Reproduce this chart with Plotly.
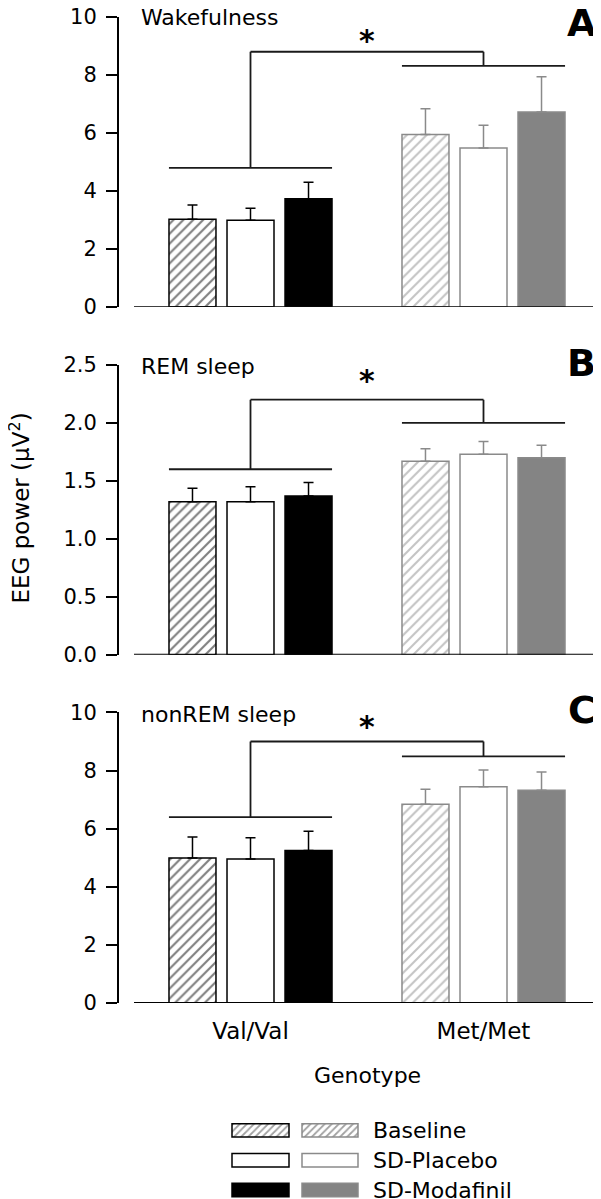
import plotly.graph_objects as go

# ---------------- data ----------------
groups = ["Val/Val", "Met/Met"]
conditions = ["Baseline", "SD-Placebo", "SD-Modafinil"]
panel_titles = ["Wakefulness", "REM sleep", "nonREM sleep"]
panel_letters = ["A", "B", "C"]

wake_val = [3.02, 2.99, 3.73]
wake_val_err = [0.49, 0.41, 0.57]
wake_met = [5.94, 5.48, 6.72]
wake_met_err = [0.89, 0.78, 1.22]

rem_val = [1.32, 1.32, 1.37]
rem_val_err = [0.117, 0.129, 0.115]
rem_met = [1.67, 1.73, 1.70]
rem_met_err = [0.106, 0.109, 0.106]

nrem_val = [4.99, 4.96, 5.25]
nrem_val_err = [0.72, 0.73, 0.66]
nrem_met = [6.84, 7.44, 7.32]
nrem_met_err = [0.52, 0.58, 0.63]

# significance brackets: [Val/Val level, top level, Met/Met level], star level
bracket_levels = [[4.79, 8.80, 8.31], [1.60, 2.20, 2.00], [6.40, 9.00, 8.49]]
star_levels = [9.29, 2.395, 9.62]

y_ranges = [[0, 10], [0, 2.5], [0, 10]]
y_dticks = [2, 0.5, 2]
y_formats = ["d", ".1f", "d"]

# ---------------- styles / layout ----------------
OFF = 8.0            # page offset of the plot div inside the window
W = 601.0 - OFF
H = 1199.0 - OFF
S = H / 1197.0       # slight vertical squeeze so that top content stays visible
FONT = "DejaVu Sans"
BLACK = "#000000"
GREY_LINE = "#8a8a8a"
GREY_FILL = "#848484"


def px_x(v):
    return (v - OFF) / W


def px_y(v):
    return 1 - ((v - 2.0) * S) / H


panel_px = [(11, 302.3), (360.7, 652), (710, 1002)]
title_px = [10.5, 361, 711]
letter_px = [17.5, 358.5, 707.5]
x_domain = [px_x(119), px_x(600)]
x_range = [-0.5644, 1.5]

val_style = {
    "Baseline": dict(color="white", pattern=dict(shape="/", fgcolor=BLACK, bgcolor="white", size=7, solidity=0.3)),
    "SD-Placebo": dict(color="white", pattern=dict(shape="")),
    "SD-Modafinil": dict(color=BLACK, pattern=dict(shape="")),
}
met_style = {
    "Baseline": dict(color="white", pattern=dict(shape="/", fgcolor=GREY_LINE, bgcolor="white", size=7, solidity=0.3)),
    "SD-Placebo": dict(color="white", pattern=dict(shape="")),
    "SD-Modafinil": dict(color=GREY_FILL, pattern=dict(shape="")),
}

panels = [
    (wake_val, wake_val_err, wake_met, wake_met_err),
    (rem_val, rem_val_err, rem_met, rem_met_err),
    (nrem_val, nrem_val_err, nrem_met, nrem_met_err),
]

fig = go.Figure()
shapes = []
annotations = []
BLW = 1.8  # bracket / baseline line width

for p, (vv, ve, mv, me) in enumerate(panels):
    xa = "x" if p == 0 else f"x{p+1}"
    ya = "y" if p == 0 else f"y{p+1}"
    for i, cond in enumerate(conditions):
        for g, (vals, errs, style, lc) in enumerate([
            (vv, ve, val_style, BLACK),
            (mv, me, met_style, GREY_LINE),
        ]):
            st = style[cond]
            fig.add_trace(go.Bar(
                x=[g], y=[vals[i]],
                xaxis=xa, yaxis=ya,
                offsetgroup=cond,
                marker=dict(color=st["color"], pattern=st["pattern"],
                            line=dict(color=lc, width=1.5)),
                error_y=dict(type="data", symmetric=False, array=[errs[i]], arrayminus=[0],
                             color=lc, thickness=1.5, width=5),
                showlegend=False, hoverinfo="skip",
            ))
    # baseline (x axis line, offset from y axis)
    shapes.append(dict(type="line", xref=xa, yref=ya, x0=-0.5, x1=1.5, y0=0, y1=0,
                       line=dict(color=BLACK, width=BLW)))
    lv, top, lm = bracket_levels[p]
    blc = "#1a1a1a"
    shapes += [
        dict(type="line", xref=xa, yref=ya, x0=-0.35, x1=0.35, y0=lv, y1=lv, line=dict(color=blc, width=BLW)),
        dict(type="line", xref=xa, yref=ya, x0=0, x1=0, y0=lv, y1=top, line=dict(color=blc, width=BLW)),
        dict(type="line", xref=xa, yref=ya, x0=0, x1=1, y0=top, y1=top, line=dict(color=blc, width=BLW)),
        dict(type="line", xref=xa, yref=ya, x0=1, x1=1, y0=top, y1=lm, line=dict(color=blc, width=BLW)),
        dict(type="line", xref=xa, yref=ya, x0=0.65, x1=1.35, y0=lm, y1=lm, line=dict(color=blc, width=BLW)),
    ]
    annotations.append(dict(text="<b>*</b>", xref=xa, yref=ya, x=0.5, y=star_levels[p],
                            showarrow=False, font=dict(family=FONT, size=30, color=BLACK),
                            xanchor="center", yanchor="middle", yshift=-3))
    top_px, bot_px = panel_px[p]
    annotations.append(dict(text=panel_titles[p], xref="paper", yref="paper", x=px_x(139),
                            y=px_y(title_px[p]), xanchor="left", yanchor="middle", yshift=-1,
                            showarrow=False, font=dict(family=FONT, size=22, color=BLACK)))
    annotations.append(dict(text=f"<b>{panel_letters[p]}</b>", xref="paper", yref="paper",
                            x=px_x(581.7), y=px_y(letter_px[p]), xanchor="center", yanchor="middle",
                            showarrow=False, font=dict(family=FONT, size=38, color=BLACK)))

    dom = [px_y(bot_px), px_y(top_px)]
    fig.layout[("xaxis" if p == 0 else f"xaxis{p+1}")] = dict(
        domain=x_domain, range=x_range, anchor=ya, showgrid=False, zeroline=False, showline=False,
        ticks="", tickvals=[0, 1], ticktext=groups, showticklabels=(p == 2),
        tickfont=dict(family=FONT, size=23, color=BLACK), ticklabelstandoff=12,
    )
    fig.layout[("yaxis" if p == 0 else f"yaxis{p+1}")] = dict(
        domain=dom, range=y_ranges[p], anchor=xa, dtick=y_dticks[p], tick0=0,
        tickformat=y_formats[p], showgrid=False, zeroline=False, showline=True,
        linecolor=BLACK, linewidth=2, ticks="outside", ticklen=11, tickwidth=2,
        tickcolor=BLACK, tickfont=dict(family=FONT, size=21, color=BLACK),
        ticklabelstandoff=5, ticklabeloverflow="allow",
    )

# axis titles
annotations.append(dict(text="EEG power (μV<sup>2</sup>)", xref="paper", yref="paper",
                        x=px_x(20), y=px_y(505), textangle=-90, showarrow=False,
                        xanchor="center", yanchor="middle",
                        font=dict(family=FONT, size=23, color=BLACK)))
annotations.append(dict(text="Genotype", xref="paper", yref="paper",
                        x=px_x(367), y=px_y(1075), showarrow=False,
                        xanchor="center", yanchor="middle",
                        font=dict(family=FONT, size=22, color=BLACK)))

# ---------------- legend (swatch subplot) ----------------
rows = [0, 1, 2]
leg_val_fill = [val_style[c]["color"] for c in conditions]
leg_met_fill = [met_style[c]["color"] for c in conditions]
fig.add_trace(go.Bar(
    y=rows, x=[57, 57, 57], base=[232 - OFF] * 3, orientation="h",
    xaxis="x4", yaxis="y4", width=0.45, offset=-0.225,
    marker=dict(color=leg_val_fill,
                pattern=dict(shape=["/", "", ""], fgcolor=BLACK, bgcolor="white", size=5, solidity=0.35),
                line=dict(color=BLACK, width=1.5)),
    showlegend=False, hoverinfo="skip"))
fig.add_trace(go.Bar(
    y=rows, x=[56, 56, 56], base=[302 - OFF] * 3, orientation="h",
    xaxis="x4", yaxis="y4", width=0.45, offset=-0.225,
    marker=dict(color=leg_met_fill,
                pattern=dict(shape=["/", "", ""], fgcolor=GREY_LINE, bgcolor="white", size=5, solidity=0.35),
                line=dict(color=GREY_LINE, width=1.5)),
    showlegend=False, hoverinfo="skip"))
for r, c in zip(rows, conditions):
    annotations.append(dict(text=c, xref="x4", yref="y4", x=371 - OFF, y=r, xanchor="left",
                            yanchor="middle", showarrow=False,
                            font=dict(family=FONT, size=22, color=BLACK)))

fig.layout["xaxis4"] = dict(domain=[0, 1], range=[0, W], anchor="y4", visible=False)
fig.layout["yaxis4"] = dict(domain=[0, px_y(1115)], range=[2.3, -0.5], anchor="x4", visible=False)

fig.update_layout(
    width=W, height=H,
    margin=dict(l=0, r=0, t=0, b=0, pad=0, autoexpand=False),
    paper_bgcolor="white", plot_bgcolor="white",
    barmode="group", bargap=0.253, bargroupgap=0.19,
    shapes=shapes, annotations=annotations,
    showlegend=False,
    font=dict(family=FONT, color=BLACK),
)

fig.write_html("out.html")
